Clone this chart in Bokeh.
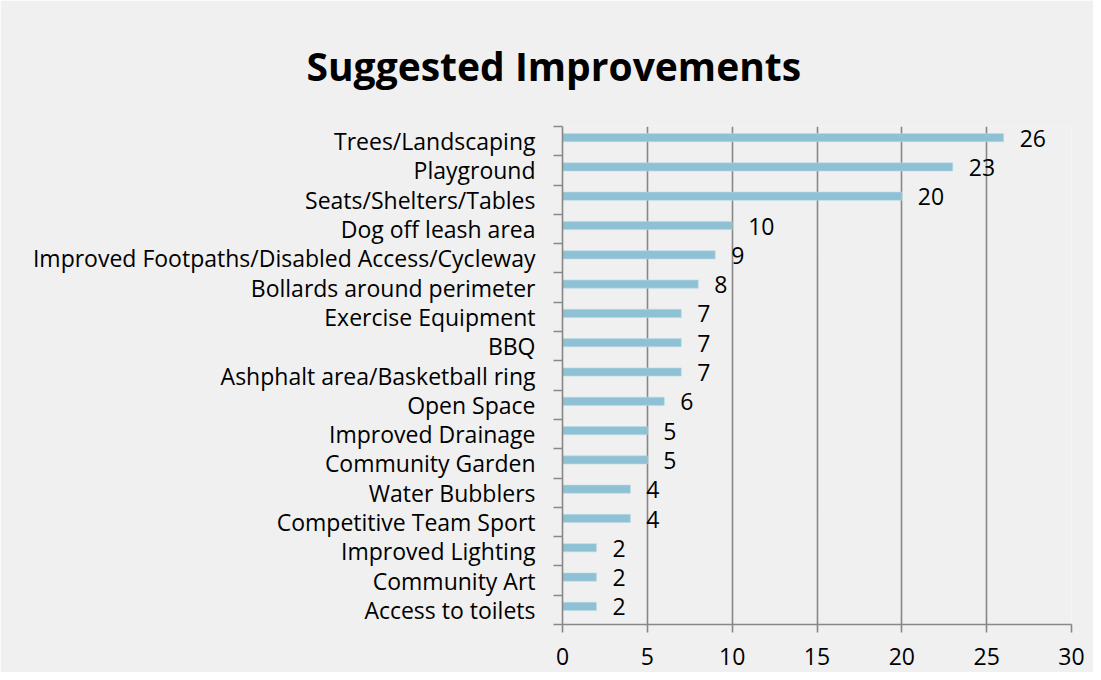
from bokeh.plotting import figure
from bokeh.models import Range1d, FixedTicker, ColumnDataSource, Title
from bokeh.core.properties import value
from bokeh.embed import file_html
from bokeh.resources import INLINE

categories = ["Access to toilets", "Community Art", "Improved Lighting",
              "Competitive Team Sport", "Water Bubblers", "Community Garden",
              "Improved Drainage", "Open Space", "Ashphalt area/Basketball ring",
              "BBQ", "Exercise Equipment", "Bollards around perimeter",
              "Improved Footpaths/Disabled Access/Cycleway", "Dog off leash area",
              "Seats/Shelters/Tables", "Playground", "Trees/Landscaping"]
counts = [2, 2, 2, 4, 4, 5, 5, 6, 7, 7, 7, 8, 9, 10, 20, 23, 26]
x_ticks = [0, 5, 10, 15, 20, 25, 30]
title_text = "Suggested Improvements"

FONT = "Open Sans"
BG = "#f0f0f0"
GRID = "#878787"
LBL = "23px"

n = len(categories)
pos = list(range(n))
src = ColumnDataSource(dict(
    y=[i + 0.62 for i in pos],
    ty=[i + 0.6 for i in pos],
    v=counts,
    lab=[str(c) for c in counts],
))

p = figure(width=1093, height=672, output_backend="svg", toolbar_location=None,
           x_range=Range1d(0, 30), y_range=Range1d(0, n),
           min_border_left=562, min_border_right=22, min_border_top=126,
           min_border_bottom=48)
p.background_fill_color = BG
p.border_fill_color = BG
p.outline_line_color = None

# chart title: centred over the whole chart area, shifted left of the frame
t = Title(text=title_text, align="left", offset=-256,
          text_font=FONT, text_font_size="39px", text_font_style="bold",
          text_color="black", standoff=70)
p.add_layout(t, "above")

p.hbar(y="y", right="v", left=0, height=0.28, source=src,
       fill_color="#8fc1d4", line_color="#b9dae6", line_width=0.6)
p.text(x="v", y="ty", text="lab", source=src, x_offset=16,
       text_baseline="middle", text_align="left",
       text_font=value(FONT), text_font_size=LBL, text_color="black")

# x axis
p.xaxis.ticker = FixedTicker(ticks=x_ticks, minor_ticks=[])
p.xaxis.axis_line_color = GRID
p.xaxis.axis_line_width = 1.6
p.xaxis.major_tick_line_color = GRID
p.xaxis.major_tick_line_width = 1.6
p.xaxis.major_tick_in = 0
p.xaxis.major_tick_out = 8
p.xaxis.major_label_standoff = 15
p.xaxis.major_label_text_font = FONT
p.xaxis.major_label_text_font_size = LBL
p.xaxis.major_label_text_color = "black"
p.xgrid.ticker = FixedTicker(ticks=x_ticks)
p.xgrid.grid_line_color = GRID
p.xgrid.grid_line_width = 1.6

# y axis
p.yaxis.ticker = FixedTicker(ticks=[i + 0.5 for i in pos],
                             minor_ticks=list(range(n + 1)))
p.yaxis.major_label_overrides = {i + 0.5: c for i, c in enumerate(categories)}
p.yaxis.axis_line_color = GRID
p.yaxis.axis_line_width = 1.6
p.yaxis.major_tick_line_color = None
p.yaxis.major_tick_in = 0
p.yaxis.major_tick_out = 0
p.yaxis.minor_tick_line_color = GRID
p.yaxis.minor_tick_line_width = 1.6
p.yaxis.minor_tick_in = 0
p.yaxis.minor_tick_out = 9
p.yaxis.major_label_standoff = 18
p.yaxis.major_label_text_font = FONT
p.yaxis.major_label_text_font_size = LBL
p.yaxis.major_label_text_color = "black"
p.ygrid.grid_line_color = None

open("out.html", "w").write(file_html(p, INLINE))
